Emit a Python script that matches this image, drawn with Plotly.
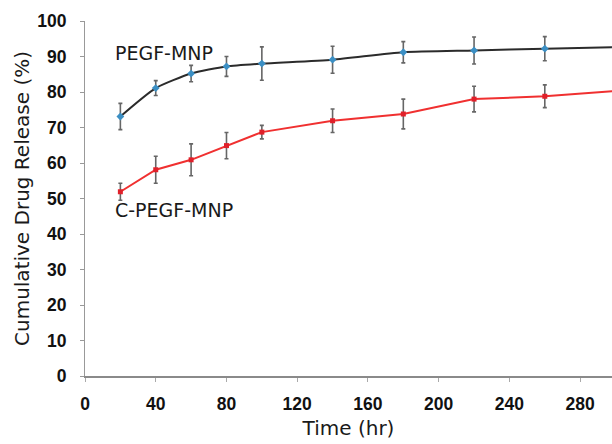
import plotly.graph_objects as go

# Release study sampling times (hr)
time_hr = [20, 40, 60, 80, 100, 140, 180, 220, 260, 300]

# Cumulative drug release (%) and standard deviations
pegf_release = [73.1, 81.1, 85.2, 87.2, 88.0, 89.1, 91.2, 91.7, 92.2, 92.6]
pegf_sd = [3.7, 2.1, 2.3, 2.8, 4.7, 3.8, 3.0, 3.8, 3.4, 3.0]

cpegf_release = [51.9, 58.1, 60.9, 64.9, 68.7, 71.9, 73.8, 78.0, 78.8, 80.3]
cpegf_sd = [2.4, 3.8, 4.5, 3.7, 1.9, 3.3, 4.2, 3.6, 3.2, 3.0]

x_ticks = [0, 40, 80, 120, 160, 200, 240, 280]
y_ticks = [0, 10, 20, 30, 40, 50, 60, 70, 80, 90, 100]

fig = go.Figure()

fig.add_trace(go.Scatter(
    x=time_hr, y=pegf_release, mode="lines+markers", name="PEGF-MNP",
    line=dict(color="#2b2b2b", width=2, shape="spline", smoothing=0.6),
    marker=dict(symbol="diamond", size=6, color="#3b8fc4"),
    error_y=dict(type="data", array=pegf_sd, color="#666666", thickness=1.6, width=2),
))

fig.add_trace(go.Scatter(
    x=time_hr, y=cpegf_release, mode="lines+markers", name="C-PEGF-MNP",
    line=dict(color="#f03030", width=2),
    marker=dict(symbol="square", size=5, color="#e0202a"),
    error_y=dict(type="data", array=cpegf_sd, color="#666666", thickness=1.6, width=2),
))

label_font = dict(family="DejaVu Sans, Verdana, sans-serif", size=19, color="#1a1a1a")
fig.add_annotation(x=17, y=91.1, xref="x", yref="y", text="PEGF-MNP",
                   showarrow=False, xanchor="left", xshift=-2, font=label_font)
fig.add_annotation(x=17, y=46.8, xref="x", yref="y", text="C-PEGF-MNP",
                   showarrow=False, xanchor="left", xshift=-2, font=label_font)

tick_font = dict(family="Liberation Sans, Arial, sans-serif", size=17.5,
                 color="#111111", weight="bold")
title_font = dict(family="DejaVu Sans, Verdana, sans-serif", size=20, color="#1a1a1a")

fig.update_layout(
    width=612, height=444,
    margin=dict(l=85, r=0, t=21, b=68),
    paper_bgcolor="white", plot_bgcolor="white",
    showlegend=False,
    xaxis=dict(
        range=[0, 298], tickvals=x_ticks, ticks="outside", ticklen=4,
        tickcolor="#aaaaaa", showline=True, linecolor="#8a8a8a", linewidth=2,
        showgrid=False, zeroline=False, tickfont=tick_font, ticklabelstandoff=7,
        title=dict(text="Time (hr)", font=title_font, standoff=8),
    ),
    yaxis=dict(
        range=[0, 100], tickvals=y_ticks, ticks="outside", ticklen=4,
        tickcolor="#999999", showline=True, linecolor="#999999", linewidth=1,
        showgrid=False, zeroline=False, tickfont=tick_font, ticklabelstandoff=10,
        title=dict(text="Cumulative Drug Release (%)", font=title_font, standoff=2),
    ),
)

fig.write_html("out.html")
